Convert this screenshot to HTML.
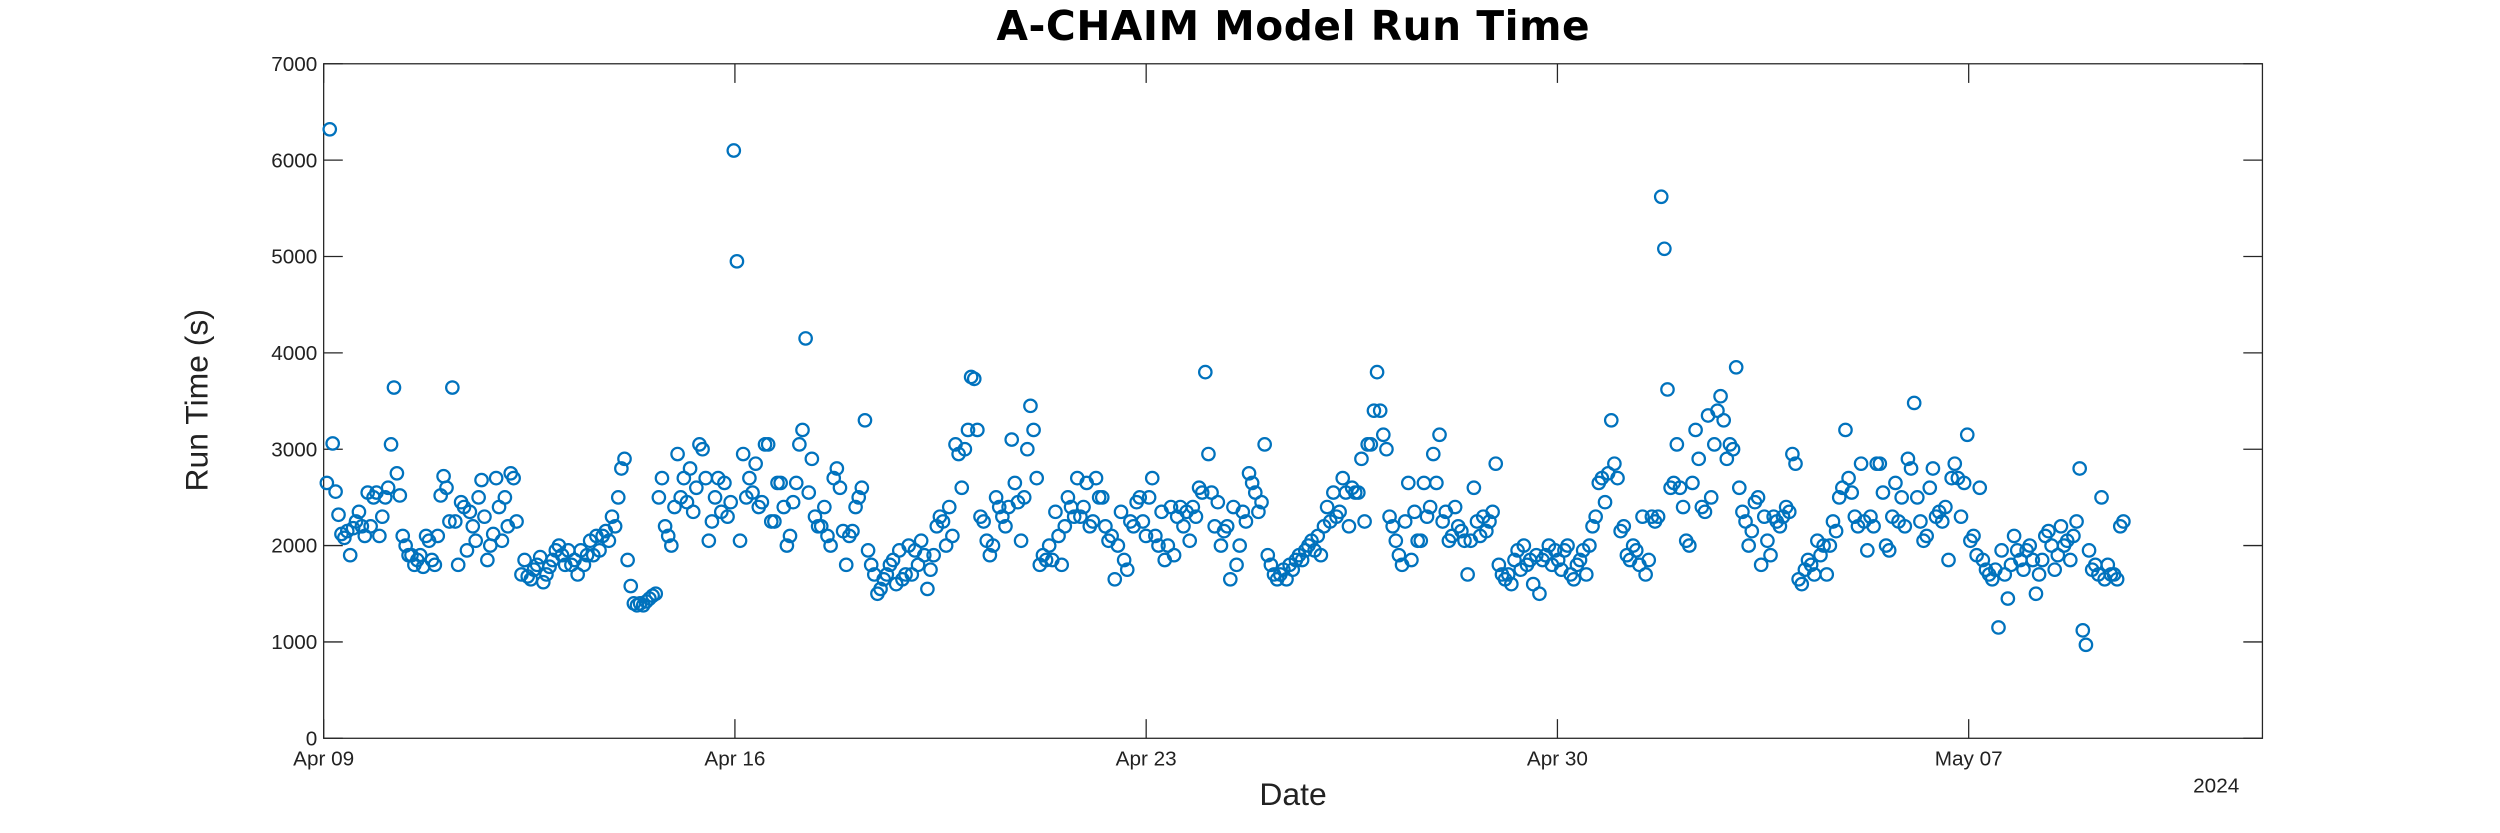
<!DOCTYPE html>
<html><head><meta charset="utf-8"><style>
html,body{margin:0;padding:0;background:#fff;}
svg{display:block;font-family:"Liberation Sans","DejaVu Sans",sans-serif;}
</style></head><body>
<svg id="chart" width="2500" height="833" viewBox="0 0 1568 522.4" preserveAspectRatio="none" xmlns="http://www.w3.org/2000/svg">
<rect width="1568" height="523" fill="#fff"/>
<text x="811" y="25" text-anchor="middle" font-size="25.5" font-weight="bold" fill="#000" font-family="DejaVu Sans, sans-serif" textLength="372">A-CHAIM Model Run Time</text>
<g id="axes"></g>
<g id="marks"></g>
<text x="811" y="505" text-anchor="middle" font-size="20" fill="#222">Date</text>
<text transform="translate(130,251) rotate(-90)" text-anchor="middle" font-size="20" fill="#222">Run Time (s)</text>
<text x="1390" y="497" text-anchor="middle" font-size="13" fill="#222">2024</text>
</svg>
<script>
const yTicks = [0,1000,2000,3000,4000,5000,6000,7000];
const xTickLabels = ["Apr 09","Apr 16","Apr 23","Apr 30","May 07"];
const xTickDays = [0,7,14,21,28];
const xDomainDays = [0,33];
const yDomain = [0,7000];
const firstRunHourA = 1.3;
const lastRunHourA = 78.8;
const firstRunHourB = 80.8;
const lastRunHourB = 735.2;
const runTimesA = [2650,6320,3060,2560,2320,2120,2080,2150,1900,2180,2250,2350,2200,2100,2550,2200,2500,2550,2100,2300,2500,2600,3050,3640,2750,2520,2100,2000,1900,1900,1800,1850,1900,1780,2100,2050,1850,1800,2100,2520,2720,2600,2250,3640,2250,1800,2450,2400,1950,2350,2200,2050,2500,2680,2300,1850,2000,2120,2700,2400,2050,2500,2200,2750,2700,2250];
const runTimesB = [1700,1850,1680,1650,1750,1800,1880,1620,1700,1780,1850,1950,2000,1900,1800,1950,1800,1850,1700,1950,1800,1900,2050,1900,2100,1950,2100,2150,2050,2300,2200,2500,2800,2900,1850,1580,1400,1380,1400,1380,1420,1450,1480,1500,2500,2700,2200,2100,2000,2400,2950,2500,2700,2450,2800,2350,2600,3050,3000,2700,2050,2250,2500,2700,2350,2650,2300,2450,6100,4950,2050,2950,2500,2700,2550,2850,2400,2450,3050,3050,2250,2250,2650,2650,2400,2000,2100,2450,2650,3050,3200,4150,2550,2900,2300,2200,2200,2400,2100,2000,2700,2800,2600,2150,1800,2100,2150,2400,2500,2600,3300,1950,1800,1700,1500,1550,1650,1700,1800,1850,1600,1950,1650,1700,2000,1700,1950,1800,2050,1900,1550,1750,1900,2200,2300,2250,2000,2400,2100,3050,2950,2600,3000,3200,3750,3730,3200,2300,2250,2050,1900,2000,2500,2400,2300,2200,2400,3100,2650,2450,2050,2500,3000,3450,3200,2700,1800,1900,1850,2000,1850,2350,2100,1800,2200,2500,2400,2300,2700,2300,2400,2650,2200,2250,2700,2500,2500,2200,2050,2100,1650,2000,2350,1850,1750,2250,2200,2450,2500,2250,2100,2500,2700,2100,2000,2350,1850,2000,2400,1900,2300,2400,2200,2350,2050,2400,2300,2600,2550,3800,2950,2550,2200,2450,2000,2150,2200,1650,2400,1800,2000,2350,2250,2750,2650,2550,2350,2450,3050,1900,1800,1700,1650,1700,1750,1650,1800,1750,1850,1900,1850,1950,2000,2050,1950,2100,1900,2200,2400,2250,2550,2300,2350,2700,2550,2200,2600,2550,2550,2900,2250,3050,3050,3400,3800,3400,3150,3000,2300,2200,2050,1900,1800,2250,2650,1850,2350,2050,2050,2650,2300,2400,2950,2650,3150,2250,2350,2050,2100,2400,2200,2150,2050,1700,2050,2600,2250,2100,2300,2150,2250,2350,2850,1800,1700,1650,1700,1600,1850,1950,1750,2000,1800,1850,1600,1900,1500,1850,1900,2000,1800,1950,1850,1750,1950,2000,1700,1650,1800,1850,1950,1700,2000,2200,2300,2650,2700,2450,2750,3300,2850,2700,2150,2200,1900,1850,2000,1950,1800,2300,1700,1850,2300,2250,2300,5620,5080,3620,2600,2650,3050,2600,2400,2050,2000,2650,3200,2900,2400,2350,3350,2500,3050,3400,3550,3300,2900,3050,3000,3850,2600,2350,2250,2000,2150,2450,2500,1800,2300,2050,1900,2300,2250,2200,2300,2400,2350,2950,2850,1650,1600,1750,1850,1800,1700,2050,1900,2000,1700,2000,2250,2150,2500,2600,3200,2700,2550,2300,2200,2850,2250,1950,2300,2200,2850,2850,2550,2000,1950,2300,2650,2250,2500,2200,2900,2800,3480,2500,2250,2050,2100,2600,2800,2300,2350,2250,2400,1850,2700,2850,2700,2300,2650,3150,2050,2100,1900,2600,1850,1750,1700,1650,1750,1150,1950,1700,1450,1800,2100,1950,1850,1750,1950,2000,1850,1500,1700,1850,2100,2150,2000,1750,1900,2200,2000,2050,1850,2100,2250,2800,1120,970,1950,1750,1800,1700,2500,1650,1800,1700,1700,1650,2200,2250];

const L=203,R=1419,T=40,B=463;
const NS="http://www.w3.org/2000/svg";
function xScale(d){return L+(d-xDomainDays[0])/(xDomainDays[1]-xDomainDays[0])*(R-L);}
function yScale(v){return B-(v-yDomain[0])/(yDomain[1]-yDomain[0])*(B-T);}
function mk(tag,attrs,parent){const e=document.createElementNS(NS,tag);for(const k in attrs)e.setAttribute(k,attrs[k]);parent.appendChild(e);return e;}
const axes=document.getElementById('axes');
const box=mk('rect',{x:L,y:T,width:R-L,height:B-T,fill:'none',stroke:'#262626','stroke-width':0.8},axes);


yTicks.forEach(v=>{
  const y=yScale(v);
  const t1=mk('line',{x1:L,x2:L+12,y1:y,y2:y,stroke:'#262626','stroke-width':0.8},axes);
  
  
  const t2=mk('line',{x1:R-12,x2:R,y1:y,y2:y,stroke:'#262626','stroke-width':0.8},axes);
  
  
  const tx=mk('text',{x:L-4,y:y+4.5,'text-anchor':'end','font-size':13,fill:'#222'},axes);
  tx.textContent=v;
  
  
});
xTickDays.forEach((d,i)=>{
  const x=xScale(d);
  const t1=mk('line',{x1:x,x2:x,y1:B,y2:B-12,stroke:'#262626','stroke-width':0.8},axes);
  
  
  const t2=mk('line',{x1:x,x2:x,y1:T,y2:T+12,stroke:'#262626','stroke-width':0.8},axes);
  
  
  const tx=mk('text',{x:x,y:B+17,'text-anchor':'middle','font-size':13,fill:'#222'},axes);
  tx.textContent=xTickLabels[i];
  
  
});
const marks=document.getElementById('marks');
function drawSeg(vals,h0,h1){
  const n=vals.length;
  vals.forEach((v,i)=>{
    const h=h0+(h1-h0)*i/(n-1);
    const c=mk('circle',{cx:xScale(h/24),cy:yScale(v),r:3.9,fill:'none',stroke:'#0072BD','stroke-width':1.4},marks);
    
    
  });
}
drawSeg(runTimesA,firstRunHourA,lastRunHourA);
drawSeg(runTimesB,firstRunHourB,lastRunHourB);
</script>
</body></html>
